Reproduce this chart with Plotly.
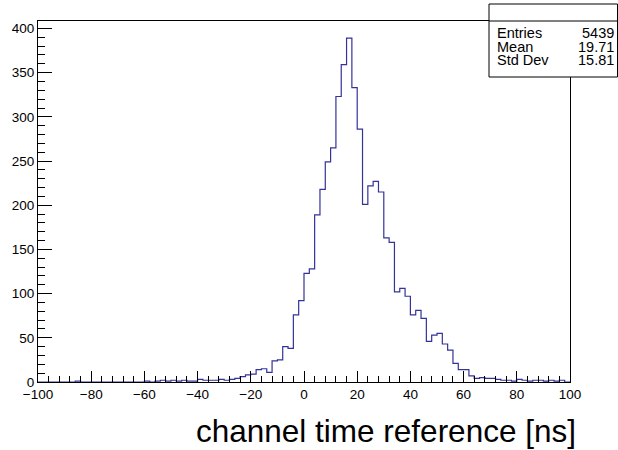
import plotly.graph_objects as go

# ---- data ----
x_min, x_max, n_bins = -100.0, 100.0, 100
counts = [
    # -100 .. -82
    0, 0, 0, 0, 0, 0, 0, 1, 0, 0,
    # -80 .. -62
    0, 0, 0, 0, 0, 0, 0, 0, 0, 0,
    # -60 .. -42
    1, 0, 1, 2, 1, 2, 1, 2, 1, 1,
    # -40 .. -22
    3, 2, 2, 2, 3, 2, 3, 4, 6, 8,
    # -20 .. -2
    9, 14, 15, 11, 24, 25, 40, 38, 76, 92,
    # 0 .. 18
    123, 128, 189, 218, 249, 265, 323, 359, 389, 333,
    # 20 .. 38
    286, 201, 222, 227, 215, 163, 158, 102, 106, 97,
    # 40 .. 58
    76, 81, 72, 46, 53, 55, 43, 36, 21, 14,
    # 60 .. 78
    14, 7, 4, 5, 4, 4, 3, 2, 2, 1,
    # 80 .. 98
    3, 2, 1, 2, 2, 1, 2, 1, 2, 0,
]
stat_labels = ["Entries", "Mean", "Std Dev"]
stat_values = ["5439", "19.71", "15.81"]
x_title = "channel time reference [ns]"

bw = (x_max - x_min) / n_bins
edges = [x_min + i * bw for i in range(n_bins + 1)]
xs = [x_min] + edges[:-1] + [x_max, x_max]
ys = [0] + counts + [counts[-1], 0]

FONT = "Liberation Sans, Arial, Helvetica, sans-serif"
HCOL = "#333399"

fig = go.Figure()
fig.add_trace(go.Scatter(x=xs, y=ys, mode="lines", line=dict(color=HCOL, width=1.2, shape="hv"),
                         hoverinfo="skip", showlegend=False))

ymax = 1.05 * max(counts)

fig.update_layout(
    width=618, height=450,
    margin=dict(l=38, r=48, t=21, b=68),
    paper_bgcolor="white", plot_bgcolor="white",
    font=dict(family=FONT, size=13.5, color="black"),
    showlegend=False,
    xaxis=dict(range=[x_min, x_max], tick0=-100, dtick=20, ticks="inside", ticklen=11, tickwidth=1,
               tickcolor="black", showline=True, linecolor="black", linewidth=1, mirror=True,
               showgrid=False, zeroline=False, tickfont=dict(size=13.5),
               minor=dict(dtick=4, ticks="inside", ticklen=6, tickcolor="black", showgrid=False)),
    yaxis=dict(range=[0, ymax], tick0=0, dtick=50, ticks="inside", ticklen=14, tickwidth=1,
               tickcolor="black", showline=True, linecolor="black", linewidth=1, mirror=True,
               showgrid=False, zeroline=False, tickfont=dict(size=13.5),
               minor=dict(dtick=10, ticks="inside", ticklen=7, tickcolor="black", showgrid=False)),
)

# x-axis title (ROOT style, right aligned, large)
fig.add_annotation(text=x_title, xref="paper", yref="paper", x=1.015, y=-0.135,
                   xanchor="right", yanchor="middle", showarrow=False,
                   font=dict(family=FONT, size=31.5, color="black"))

# stats box
def px_x(p):
    return (p - 38) / 532.0

def px_y(p):
    return (382 - p) / 361.0

fig.add_shape(type="rect", xref="paper", yref="paper", x0=px_x(489), x1=px_x(617.5),
              y0=px_y(77), y1=px_y(4), line=dict(color="black", width=1), fillcolor="white", layer="above")
fig.add_shape(type="line", xref="paper", yref="paper", x0=px_x(489), x1=px_x(617.5),
              y0=px_y(21), y1=px_y(21), line=dict(color="black", width=1), layer="above")
rows_y = [33, 46.5, 60]
for lab, val, ry in zip(stat_labels, stat_values, rows_y):
    fig.add_annotation(text=lab, xref="paper", yref="paper", x=px_x(495), y=px_y(ry),
                       xanchor="left", yanchor="middle", showarrow=False,
                       font=dict(family=FONT, size=14.5, color="black"))
    fig.add_annotation(text=val, xref="paper", yref="paper", x=px_x(616), y=px_y(ry),
                       xanchor="right", yanchor="middle", showarrow=False,
                       font=dict(family=FONT, size=14.5, color="black"))

fig.write_html("out.html")
